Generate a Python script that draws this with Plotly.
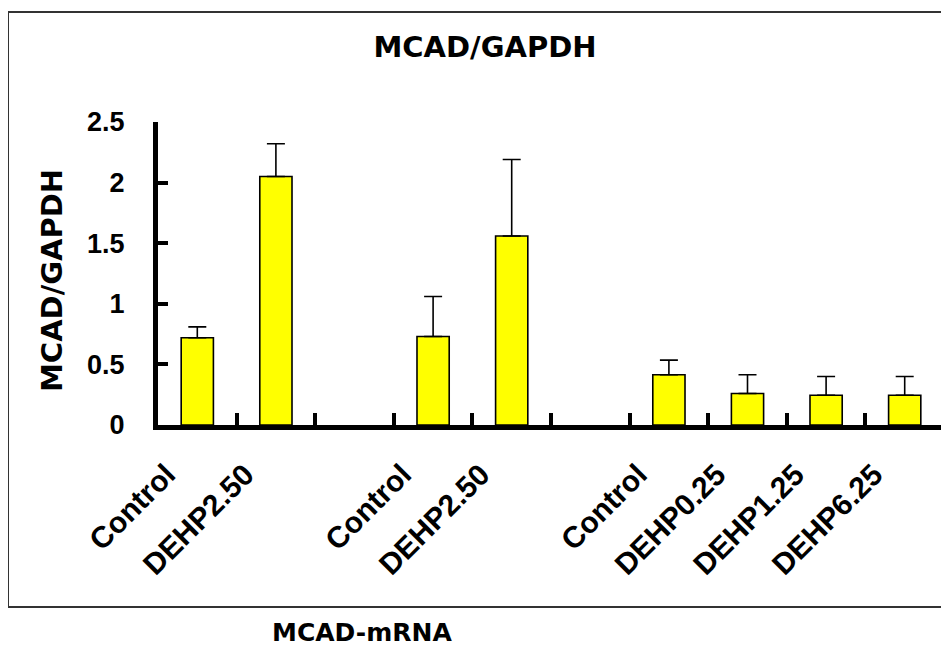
import plotly.graph_objects as go

# ---- data ----
categories = ["Control", "DEHP2.50", "", "Control", "DEHP2.50", "",
              "Control", "DEHP0.25", "DEHP1.25", "DEHP6.25"]
values = [0.72, 2.05, None, 0.73, 1.56, None, 0.415, 0.26, 0.245, 0.245]
errors = [0.09, 0.27, None, 0.33, 0.63, None, 0.12, 0.155, 0.155, 0.155]
y_ticks = [0, 0.5, 1, 1.5, 2, 2.5]
y_tick_text = ["0", "0.5", "1", "1.5", "2", "2.5"]
title_text = "MCAD/GAPDH"
y_title_text = "MCAD/GAPDH"
x_title_text = "MCAD-mRNA"

slots = list(range(len(categories)))
bar_x = [s for s, v in zip(slots, values) if v is not None]
bar_y = [v for v in values if v is not None]
bar_err = [e for e, v in zip(errors, values) if v is not None]
bar_labels = [c for c, v in zip(categories, values) if v is not None]
boundaries = [s - 0.5 for s in slots] + [slots[-1] + 0.5]
label_shift = 0.39  # rotated labels end slightly left of bar centre
label_pos = [x - label_shift for x in bar_x]

# page has an 8px body margin; size the figure so it fits the 949x648 window
OFF = 8
W, H = 949 - OFF, 648 - OFF
L = 158 - OFF
T = 122 - OFF
R = W - (944 - OFF)
B = H - (425 - OFF)
pw = W - L - R
ph = H - T - B

def px_to_paper_x(px):
    return (px - OFF - L) / pw

def px_to_paper_y(py):
    return (H - B - (py - OFF)) / ph

fig = go.Figure()
fig.add_trace(go.Bar(
    x=bar_x, y=bar_y, width=0.41,
    marker=dict(color="#FFFF00", line=dict(color="black", width=1.6)),
    error_y=dict(type="data", array=bar_err, arrayminus=[0] * len(bar_err),
                 symmetric=False, color="black", thickness=1.6, width=9),
    showlegend=False, hoverinfo="skip",
))
fig.add_trace(go.Scatter(
    x=[boundaries[0], boundaries[-1]], y=[0, 0], mode="lines",
    line=dict(width=0, color="rgba(0,0,0,0)"), xaxis="x2",
    showlegend=False, hoverinfo="skip",
))

rng = [boundaries[0], boundaries[-1]]
fig.update_layout(
    width=W, height=H,
    margin=dict(l=L, r=R, t=T, b=B, pad=0),
    paper_bgcolor="white", plot_bgcolor="white",
    title=dict(text=title_text, x=(485 - OFF) / W, xref="container", xanchor="center",
               y=1 - (47 - OFF) / H, yref="container", yanchor="middle",
               font=dict(family="DejaVu Sans", size=29, color="black", weight="bold")),
    xaxis=dict(
        range=rng, tickmode="array", tickvals=label_pos, ticktext=bar_labels,
        tickangle=-45, ticks="", showgrid=False, zeroline=False,
        showline=False, ticklabelstandoff=25,
        tickfont=dict(family="Liberation Sans", size=30, color="black", weight="bold"),
    ),
    xaxis2=dict(
        range=rng, overlaying="x", anchor="y", side="bottom",
        tickmode="array", tickvals=boundaries, showticklabels=False,
        ticks="inside", ticklen=12, tickwidth=4, tickcolor="black",
        showline=True, linewidth=5, linecolor="black",
        showgrid=False, zeroline=False,
    ),
    yaxis=dict(
        range=[0, 2.5], tickmode="array", tickvals=y_ticks, ticktext=y_tick_text,
        ticks="inside", ticklen=10, tickwidth=4, tickcolor="black",
        showline=True, linewidth=5, linecolor="black",
        showgrid=False, zeroline=False, ticklabelstandoff=23,
        tickfont=dict(family="Liberation Sans", size=27, color="black", weight="bold"),
    ),
    shapes=[dict(
        type="rect", xref="paper", yref="paper",
        x0=px_to_paper_x(8), x1=px_to_paper_x(970),
        y0=px_to_paper_y(607), y1=px_to_paper_y(12),
        line=dict(color="#333333", width=2), fillcolor="rgba(0,0,0,0)",
        layer="below",
    )],
    annotations=[
        dict(text=y_title_text, xref="paper", yref="paper",
             x=px_to_paper_x(52), y=px_to_paper_y(280),
             xanchor="center", yanchor="middle", textangle=-90, showarrow=False,
             font=dict(family="DejaVu Sans", size=29, color="black", weight="bold")),
        dict(text=x_title_text, xref="paper", yref="paper",
             x=px_to_paper_x(362), y=px_to_paper_y(632),
             xanchor="center", yanchor="middle", showarrow=False,
             font=dict(family="DejaVu Sans", size=25, color="black", weight="bold")),
    ],
)

fig.write_html("out.html")
